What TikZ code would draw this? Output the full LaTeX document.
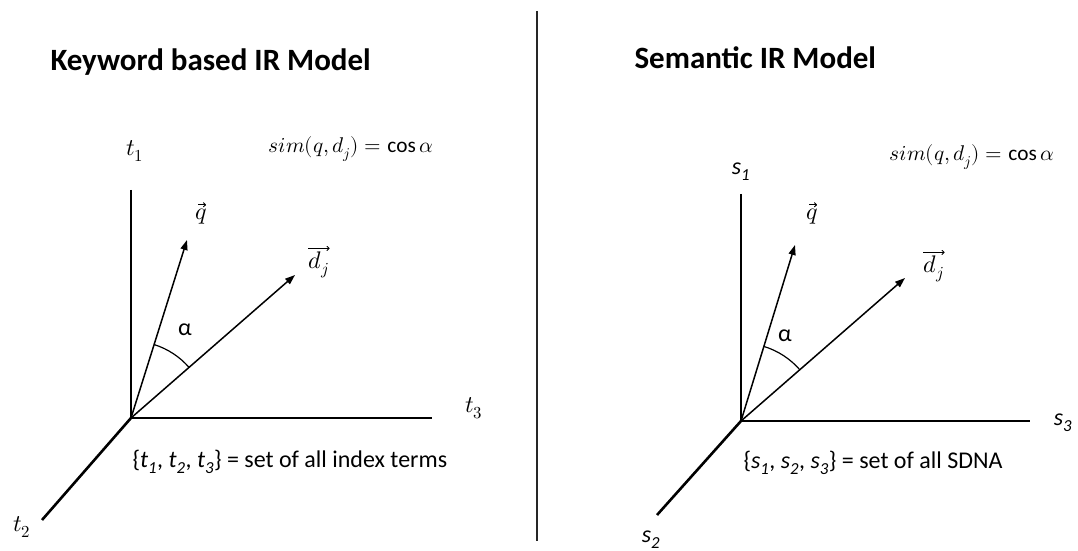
\documentclass[tikz,border=0pt]{standalone}
\usepackage{amsmath}
\usepackage{fontspec}
\usepackage{unicode-math}
\setmainfont{Carlito}
\setmathfont{Latin Modern Math}
\usepackage{tikz}
\usetikzlibrary{positioning, arrows.meta, calc}

\begin{document}
\begin{tikzpicture}[
        x=1pt, y=1pt,
        axis/.style={line width=2.6pt},
        vec/.style={-{Triangle[length=10pt, width=7pt]}, line width=1.5pt},
        vec_accent/.style={-{To[length=3pt, width=5pt]}, line width=0.9pt},
        angle_arc/.style={line width=1.2pt},
        title_label/.style={anchor=west, font=\bfseries\fontsize{31}{36}\selectfont},
        axis_label/.style={font=\fontsize{24}{28}\selectfont},
        formula_label/.style={font=\fontsize{21.3}{26}\selectfont},
        set_label/.style={anchor=west, font=\fontsize{24}{28}\selectfont},
        alpha_label/.style={font=\fontsize{24}{28}\selectfont}
    ]
    \useasboundingbox (0,0) rectangle (1078,551);

    % divider between the two models
    \coordinate (div_top) at (537, 540);
    \coordinate (div_bottom) at (537, 10);
    \draw[line width=1.4pt, black!85] (div_top) -- (div_bottom);

    % Keyword based IR model
    \node[title_label] (kw_title) at (47, 489) {Keyword based IR Model};
    \coordinate (kw_origin) at (131, 133);
    \coordinate (kw_t1) at (131, 361);
    \coordinate (kw_t3) at (432, 133);
    \coordinate (kw_t2) at (42, 31);
    \coordinate (kw_q) at (187, 311);
    \coordinate (kw_d) at (295, 276);
    \draw[axis] (kw_t1) -- (kw_origin) -- (kw_t3);
    \draw[axis] (kw_origin) -- (kw_t2);
    \draw[vec] (kw_origin) -- (kw_q);
    \draw[vec] (kw_origin) -- (kw_d);
    \draw[angle_arc] ([shift={(41.1:77)}]kw_origin) arc (41.1:72.5:77);
    \node[axis_label] (kw_t1_label) at (135, 400) {$t_1$};
    \node[axis_label] (kw_t3_label) at (474, 143) {$t_3$};
    \node[axis_label] (kw_t2_label) at (22, 24) {$t_2$};
    \node[axis_label] (kw_q_label) at (201, 334) {$q$};
    \draw[vec_accent] ([shift={(-3pt,1pt)}]kw_q_label.north) -- ([shift={(5pt,1pt)}]kw_q_label.north);
    \node[axis_label] (kw_d_label) at (319, 286) {$d_j$};
    \draw[vec_accent] ([shift={(3pt,0pt)}]kw_d_label.north west) -- ([shift={(-3pt,0pt)}]kw_d_label.north east);
    \node[alpha_label] (kw_alpha) at (185, 221) {α};
    \node[formula_label] (kw_sim) at (351, 402) {$sim(q,d_j)=\cos\alpha$};
    \node[set_label] (kw_set) at (129, 89) {\{\textit{t\textsubscript{1}}, \textit{t\textsubscript{2}}, \textit{t\textsubscript{3}}\} = set of all index terms};

    % Semantic IR model
    \node[title_label] (sem_title) at (631, 493) {Semantic IR Model};
    \coordinate (sem_origin) at (741, 130);
    \coordinate (sem_s1) at (741, 357);
    \coordinate (sem_s3) at (1030, 130);
    \coordinate (sem_s2) at (657, 36);
    \coordinate (sem_q) at (795, 306);
    \coordinate (sem_d) at (905, 273);
    \draw[axis] (sem_s1) -- (sem_origin) -- (sem_s3);
    \draw[axis] (sem_origin) -- (sem_s2);
    \draw[vec] (sem_origin) -- (sem_q);
    \draw[vec] (sem_origin) -- (sem_d);
    \draw[angle_arc] ([shift={(41.1:78)}]sem_origin) arc (41.1:72.9:78);
    \node[axis_label] (sem_s1_label) at (741, 379) {\textit{s\textsubscript{1}}};
    \node[axis_label] (sem_s3_label) at (1063, 128) {\textit{s\textsubscript{3}}};
    \node[axis_label] (sem_s2_label) at (651, 11) {\textit{s\textsubscript{2}}};
    \node[axis_label] (sem_q_label) at (812, 334) {$q$};
    \draw[vec_accent] ([shift={(-3pt,1pt)}]sem_q_label.north) -- ([shift={(5pt,1pt)}]sem_q_label.north);
    \node[axis_label] (sem_d_label) at (934, 282) {$d_j$};
    \draw[vec_accent] ([shift={(3pt,0pt)}]sem_d_label.north west) -- ([shift={(-3pt,0pt)}]sem_d_label.north east);
    \node[alpha_label] (sem_alpha) at (785, 215) {α};
    \node[formula_label] (sem_sim) at (972, 394) {$sim(q,d_j)=\cos\alpha$};
    \node[set_label] (sem_set) at (740, 88) {\{\textit{s\textsubscript{1}}, \textit{s\textsubscript{2}}, \textit{s\textsubscript{3}}\} = set of all SDNA};
\end{tikzpicture}
\end{document}
